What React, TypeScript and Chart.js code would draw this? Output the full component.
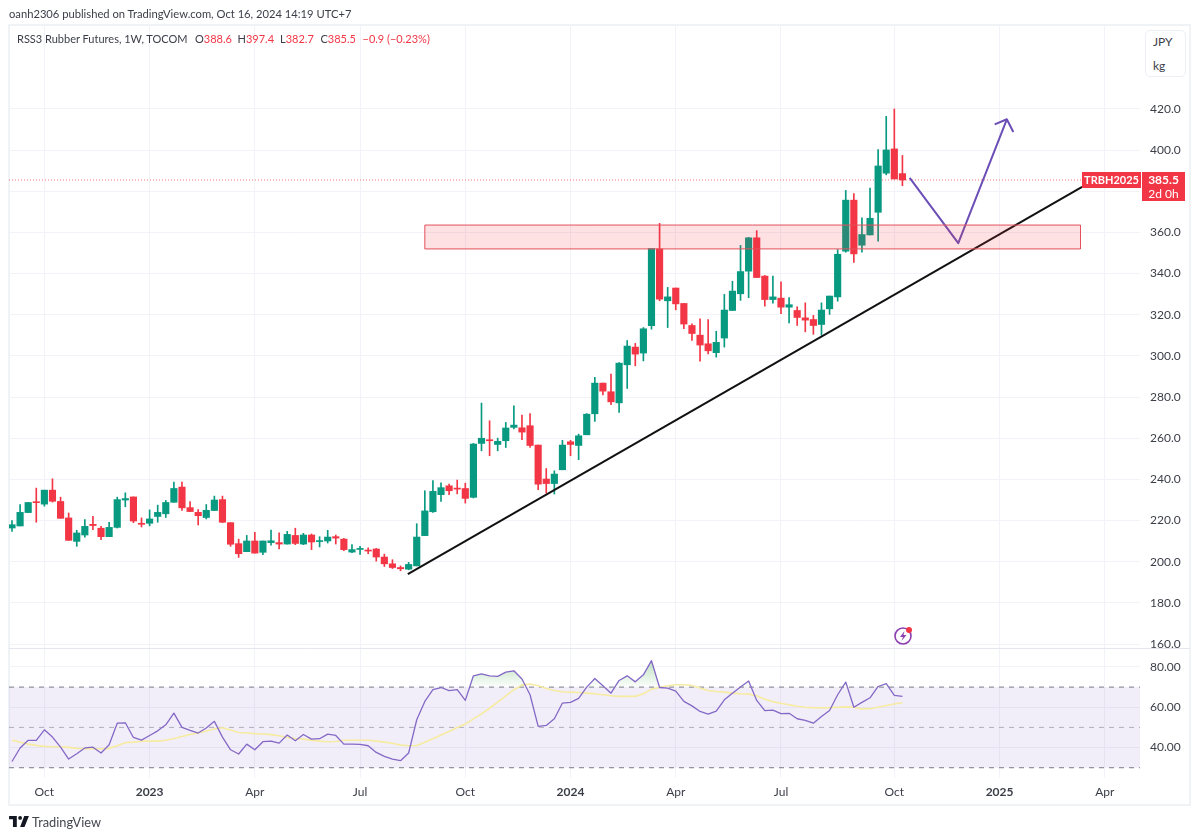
import React, { useEffect, useRef } from "react";
import { Chart, registerables } from "chart.js";
Chart.register(...registerables);

const opens = [216.4,217.4,223.9,229,228,234.8,229.3,221.3,209.9,213,218.2,216.3,212.2,216.7,230,231.5,218.7,218.7,222,223.3,228.9,236.3,226.3,224,221.5,224.9,230.2,219,208.8,204.9,210.1,204.6,209.3,209.3,208.6,212.8,208.6,213,209.8,210.1,212.2,211,204.7,206,205.7,206.2,202.3,199,197.2,196.4,198,212.7,
224.3,232.6,236.9,235.8,235.6,231.3,257.5,259.1,257,258.8,265.3,265.1,266.1,256.7,240.2,238,244.7,258.3,256.5,261.7,271.9,286.8,282.6,277.2,295.7,304.3,301.4,314.7,352,326.8,333,
325.5,314.8,310.1,305.9,301.6,308.7,322.1,330.2,341.2,357.4,338.8,327.4,328.1,323.7,322.1,318.5,317.7,315.3,322.9,328.7,350.9,375.7,353.8,358.8,369.8,388.8,400.6,388.6];
const highs = [220,227.8,228.8,235.8,234.8,240.3,231.4,223.7,215.3,220.5,222.1,217.2,219.2,231.4,233.5,231.5,221.3,225.2,227.5,229.8,238.7,238.7,229.3,225.4,227.8,231.9,231.9,219,211,212.8,214.3,210.1,215.4,214,214.8,216.3,213.8,213.5,212.2,215.3,213,211.4,208.3,207.5,206.8,206.5,203.7,201,198,199.7,218.5,234.5,
239.4,238.4,237.7,239.7,238.2,257.5,277.1,268.5,260.1,267.7,275.8,271.3,272,256.7,245.3,244.2,259,259,262,272,289.6,286.8,291.2,296.8,307.5,306.1,313.8,352.2,364.4,333.3,333,
325.5,315.6,318,317.7,312,329.9,336.3,353.7,357.6,360.9,339.1,338.8,336,328.3,323.9,325.8,319.7,325.8,329.1,351.7,380.4,378.9,367.1,381.6,400.3,416.4,420,397.4];
const lows = [214.8,217.4,223.9,219.2,227,229,221.1,210.4,207.5,211.9,215.6,210.7,212.2,216.4,226.7,219,216.9,217.4,219.2,221.5,228.9,224.9,224.4,217.9,220.8,224.9,219,207.5,202.1,204.9,204.2,203.4,208.1,206.2,208.6,208.3,208.3,205.9,207.2,209.1,208.6,205.4,204.4,203.6,203.9,200.3,197.7,196.7,195.6,196.1,198,212.7,
224,229.3,232.6,233,228.5,231,253.9,251.5,253.9,255.5,264.5,259.3,255.5,235,233.4,232.9,244.7,251.5,249.6,261.7,268.2,281.1,276.3,272.6,284.2,295.2,297.6,313,326.8,313.8,322.4,
313.2,307.5,297.5,301,299.4,304.3,322.1,327,328.3,338.1,324.2,325.7,320.6,316,314.8,311.7,310.5,310.1,320.2,326.6,350.4,345.4,350.4,358.8,355.8,388,386,382.7];
const closes = [218,224,228.8,228.7,234.8,229.4,221.1,210.4,214,217.2,217.6,212.2,216.7,230.2,230.7,219.8,218.2,220.8,224,228.8,235.6,226.2,224.4,222.4,225,230,219.2,208.5,203.9,210.1,204.2,210.1,210.2,208.6,213.3,208.9,213,209.6,210.1,212,211.5,205.9,205.9,206.3,205.2,202.3,199,197.2,196.6,198.7,212,224.7,
234.2,236,234.5,235.3,230.8,257.2,260,258.8,258.5,265,266.4,263,256.5,237.7,238,242.6,256.7,257,261.2,271.7,286.8,282.9,277.7,296.5,304.8,300.9,313.2,352.2,327.6,328.7,325.3,
315.5,310.9,305.3,302.5,306.6,322.3,331.5,341,357.4,338.1,327.4,328.7,323.7,324.9,318.7,317.4,314.8,322.3,329.1,349.4,375.7,349.6,359,366.9,392.3,400.1,386,385.5];

const rsiValues = [33.1,39.8,43.6,43.6,48.8,45.2,40.2,34.3,36.9,39.8,40.2,37.3,41.4,52.1,52.3,45,43.7,46,48.3,51.3,57.1,50,48.5,47.2,49.7,53,45.2,38.9,36.8,41.7,38.9,42.9,43.2,42.2,46.2,43.4,46.5,44.2,44.4,46.7,46,41.7,41.7,41.6,40.9,37.6,35.6,34.3,33.5,37.3,53.8,62.9,68.7,69.8,
68.3,68.7,63.4,75.6,76.6,75.6,75.3,77.4,78.1,74,66.2,50.5,51,54.3,62.1,62.4,64.4,70,74.3,70.7,67,73.3,75.6,72.6,76.1,83.1,69.8,69.5,68,62.9,60.7,57.9,56.6,58.1,63.7,67,70,73,63.4,58.3,58.6,56.8,57,54.3,53.5,52.1,55.4,58.4,66.2,72.5,60,62.4,64.7,70.3,71.7,65.9,65.4];
const rsiMaValues = [43.7,42.6,41.7,41.1,40.6,40.4,40.4,40.1,39.6,39.4,39.4,39.3,39.6,40.9,42.4,42.7,43.1,43.2,43.2,43.6,44.5,45.5,46.5,47.2,48.2,49.2,49.8,48.7,47.5,47.2,46.9,46.7,46.4,45.9,45,44.5,44.2,43.7,43.2,42.9,43,43.6,43.6,43.6,43.6,43.2,42.7,42.1,41.2,40.9,41,42.6,44.4,46.2,
48,50,51.7,54.2,56.7,59.5,62.5,65.6,68.7,71,71.5,70.7,69.3,68.3,67.7,67.5,67.3,67,66.7,66.2,65.7,65.4,65.4,65.4,66.7,69,69.8,70.7,71.2,71.2,70.8,69.5,68.3,67.8,67.5,67,66.7,66.5,65.7,64,62.8,62,61.2,60.5,60,59.8,59.7,59.8,60,60.2,60,59.2,59.3,60,60.9,61.6,62.2];

const timeTickIndex = [4,17,30,43,56,69,82,95,109,122,135];
const timeTickLabels = ["Oct","2023","Apr","Jul","Oct","2024","Apr","Jul","Oct","2025","Apr"];
const boldTimeLabels = ["2023","2024","2025"];
const priceTicks = [160,180,200,220,240,260,280,300,320,340,360,380,400,420];
const hiddenPriceLabels = [380];
const rsiTicks = [40,60,80];
const rsiLevels = [70,50,30];

const trendX = [48.9,132.2];
const trendY = [194,382.1];
const pathX = [110.9,116.9,122.9];
const pathY = [386.5,354.8,415];
const arrowHeadX = [121.4,122.9,123.7];
const arrowHeadY = [412.5,415,408.8];
const zoneX = [51,132,132,51,51];
const zoneY = [363.6,363.6,352,352,363.6];

const lastClose = 385.5;
const tagSymbol = "TRBH2025";
const tagPrice = "385.5";
const tagCountdown = "2d 0h";

const X_MIN = -0.37;
const X_MAX = 139.35;
const UP = "#089981";
const DOWN = "#F23645";
const FONT = "Lato";
const GRID = "#f1f3f8";
const TEXT = "#3b3e48";

const xs = opens.map((_, i) => i);
const isUp = opens.map((o, i) => closes[i] >= o);
const zip = (a: number[], b: number[]) => a.map((x, i) => ({ x, y: b[i] }));

const legendGroups = [
  { left: 17, parts: [["RSS3 Rubber Futures, 1W, TOCOM", TEXT]] },
  { left: 195, parts: [["O", TEXT], ["388.6", DOWN]] },
  { left: 237.5, parts: [["H", TEXT], ["397.4", DOWN]] },
  { left: 280, parts: [["L", TEXT], ["382.7", DOWN]] },
  { left: 320.5, parts: [["C", TEXT], ["385.5", DOWN]] },
  { left: 362.5, parts: [["\u22120.9 (\u22120.23%)", DOWN]] },
];

const overlayPlugin = {
  id: "overlay",
  beforeDraw(chart: any) {
    const c = chart.ctx;
    c.save();
    c.fillStyle = "#fff";
    c.fillRect(0, 0, 1200, 838);
    c.strokeStyle = "#eceff4";
    c.lineWidth = 1.5;
    c.strokeRect(9, 25, 1181, 780);
    c.restore();
  },
  afterDraw(chart: any) {
    const c = chart.ctx;
    const y = chart.scales.y;
    const area = chart.chartArea;
    const tagY = Math.round(y.getPixelForValue(lastClose));
    c.save();
    c.fillStyle = "#fff";
    c.fillRect(area.right + 2, y.bottom, 46, 3);
    c.strokeStyle = "#e4e7ee";
    c.lineWidth = 1;
    c.beginPath();
    c.moveTo(area.left, y.bottom + 0.5);
    c.lineTo(1190, y.bottom + 0.5);
    c.stroke();
    c.fillStyle = DOWN;
    c.fillRect(1082, tagY - 8, 59, 16);
    c.fillRect(1142, tagY - 8, 43, 29);
    c.textBaseline = "middle";
    c.fillStyle = "#fff";
    c.textAlign = "center";
    c.font = `700 11px ${FONT}`;
    c.fillText(tagSymbol, 1111.5, tagY);
    c.font = `700 12px ${FONT}`;
    c.fillText(tagPrice, 1163.5, tagY);
    c.font = `12px ${FONT}`;
    c.fillText(tagCountdown, 1163.5, tagY + 14);
    c.restore();
  },
};

export default function App() {
  const ref = useRef<HTMLCanvasElement>(null);
  useEffect(() => {
    document.body.style.margin = "0";
    const ctx = ref.current!.getContext("2d")!;
    const green = ctx.createLinearGradient(0, 660, 0, 687);
    green.addColorStop(0, "rgba(76,175,80,0.38)");
    green.addColorStop(1, "rgba(76,175,80,0.02)");
    const line = (data: any[], yAxisID: string, order: number, extra: any) => ({
      type: "line",
      data,
      yAxisID,
      order,
      pointRadius: 0,
      tension: 0,
      fill: false,
      borderJoinStyle: "round",
      ...extra,
    });
    const chart = new Chart(ctx, {
      type: "bar",
      data: {
        datasets: [
          line(zip(zoneX, zoneY), "y", 0, { borderColor: "#E4505C", borderWidth: 1, backgroundColor: "rgba(242,54,69,0.15)", fill: "shape" }),
          line(zip(pathX, pathY), "y", 1, { borderColor: "#6B4EB6", borderWidth: 2 }),
          line(zip(arrowHeadX, arrowHeadY), "y", 1, { borderColor: "#6B4EB6", borderWidth: 2 }),
          line(zip(trendX, trendY), "y", 2, { borderColor: "#111", borderWidth: 2 }),
          {
            type: "bar",
            data: xs.map((x) => ({ x, y: [opens[x], closes[x]] })),
            yAxisID: "y",
            order: 4,
            grouped: false,
            barThickness: 6.5,
            minBarLength: 1,
            backgroundColor: isUp.map((u) => (u ? UP : DOWN)),
          },
          {
            type: "bar",
            data: xs.map((x) => ({ x, y: [lows[x], highs[x]] })),
            yAxisID: "y",
            order: 5,
            grouped: false,
            barThickness: 1,
            backgroundColor: isUp.map((u) => (u ? UP : DOWN)),
          },
          line(zip([X_MIN, X_MAX], [lastClose, lastClose]), "y", 6, { borderColor: "#F0737E", borderWidth: 1, borderDash: [1, 2] }),

          line(zip(xs, rsiValues), "y2", 1, { borderColor: "#8468C6", borderWidth: 1.3, fill: { target: { value: 70 }, above: green, below: "rgba(0,0,0,0)" } }),
          line(zip(xs, rsiMaValues), "y2", 2, { borderColor: "#F6EBA0", borderWidth: 1.6 }),
          ...rsiLevels.map((lv) =>
            line(zip([X_MIN, X_MAX], [lv, lv]), "y2", 3, {
              borderColor: lv === 50 ? "rgba(120,123,134,0.55)" : "#787B86",
              borderWidth: 1,
              borderDash: [5, 5],
            })
          ),
          line(zip([X_MIN, X_MAX], [rsiLevels[0], rsiLevels[0]]), "y2", 9, {
            borderWidth: 0,
            backgroundColor: "rgba(126,87,194,0.1)",
            fill: { target: { value: rsiLevels[2] } },
          }),
        ] as any,
      },
      options: {
        responsive: false,
        animation: false,
        events: [],
        layout: { padding: { left: 9, top: 25, right: 10, bottom: 33 } },
        plugins: { legend: { display: false }, tooltip: { enabled: false }, title: { display: false } },
        scales: {
          x: {
            type: "linear",
            min: X_MIN,
            max: X_MAX,
            offset: false,
            border: { display: false },
            grid: { color: GRID, drawTicks: false, offset: false },
            afterBuildTicks: (s: any) => {
              s.ticks = timeTickIndex.map((value) => ({ value }));
            },
            afterFit: (s: any) => {
              s.height = 27;
            },
            ticks: {
              autoSkip: false,
              maxRotation: 0,
              padding: 7,
              color: TEXT,
              font: (c: any) => {
                const lab = timeTickLabels[timeTickIndex.indexOf(c.tick?.value)];
                return { family: FONT, size: 12, weight: boldTimeLabels.includes(lab) ? "700" : "400" };
              },
              callback: (v: any) => timeTickLabels[timeTickIndex.indexOf(v)],
            },
          },
          y: {
            type: "linear",
            position: "right",
            stack: "panes",
            stackWeight: 623,
            weight: 1,
            min: 158.1,
            max: 460.8,
            border: { display: false },
            grid: { color: GRID, drawTicks: false },
            afterBuildTicks: (s: any) => {
              s.ticks = priceTicks.map((value) => ({ value }));
            },
            afterFit: (s: any) => {
              s.width = 50;
            },
            ticks: {
              padding: 10,
              color: TEXT,
              font: { family: FONT, size: 12 },
              autoSkip: false,
              callback: (v: any) => (hiddenPriceLabels.includes(v) ? "" : Number(v).toFixed(1)),
            },
          },
          y2: {
            type: "linear",
            position: "right",
            stack: "panes",
            stackWeight: 130,
            weight: 2,
            min: 24.9,
            max: 89.4,
            border: { display: false },
            grid: { color: GRID, drawTicks: false },
            afterBuildTicks: (s: any) => {
              s.ticks = rsiTicks.map((value) => ({ value }));
            },
            afterFit: (s: any) => {
              s.width = 50;
            },
            ticks: {
              padding: 10,
              color: TEXT,
              font: { family: FONT, size: 12 },
              autoSkip: false,
              callback: (v: any) => Number(v).toFixed(2),
            },
          },
        },
      } as any,
      plugins: [overlayPlugin],
    } as any);
    return () => chart.destroy();
  }, []);

  const abs = (left: number, top: number, extra: any = {}) => ({
    position: "absolute" as const,
    left,
    top,
    whiteSpace: "nowrap" as const,
    fontFamily: FONT,
    fontSize: 12,
    lineHeight: "14px",
    color: TEXT,
    ...extra,
  });

  return (
    <div style={{ position: "fixed", left: 0, top: 0, width: 1200, height: 838, overflow: "hidden", background: "#fff" }}>
      <canvas ref={ref} width={1200} height={838} style={{ position: "absolute", left: 0, top: 0, display: "block" }} />
      <div style={abs(9, 7, { fontSize: 11.2 })}>oanh2306 published on TradingView.com, Oct 16, 2024 14:19 UTC+7</div>
      {legendGroups.map((g, i) => (
        <div key={i} style={abs(g.left, 32, { fontSize: 11 })}>
          {g.parts.map(([t, col], j) => (
            <span key={j} style={{ color: col }}>{t}</span>
          ))}
        </div>
      ))}
      <div style={{ position: "absolute", left: 1145, top: 30, width: 41, height: 47, border: "1.5px solid #eceff4", borderRadius: 5, boxSizing: "border-box", background: "#fff" }} />
      <div style={abs(1153, 35)}>JPY</div>
      <div style={abs(1153, 59)}>kg</div>
      <svg style={{ position: "absolute", left: 893, top: 625 }} width="22" height="22" viewBox="0 0 22 22">
        <circle cx="10" cy="11" r="8" fill="#fff" stroke="#8E3FAF" strokeWidth="1.6" />
        <path d="M11.5 6 L7 12 H10 L8.5 16 L13.5 10 H10.5 Z" fill="#8E3FAF" />
        <circle cx="16" cy="5" r="3" fill="#F23645" />
      </svg>
      <svg style={{ position: "absolute", left: 9, top: 816 }} width="20" height="11" viewBox="0 0 36 20">
        <path d="M0 0H14V20H7V6H0Z M28 20H20L27.5 0H36Z" fill="#131722" />
        <circle cx="20" cy="3.5" r="3.5" fill="#131722" />
      </svg>
      <div style={abs(32, 815, { fontSize: 12.8, color: "#44474f" })}>TradingView</div>
    </div>
  );
}
